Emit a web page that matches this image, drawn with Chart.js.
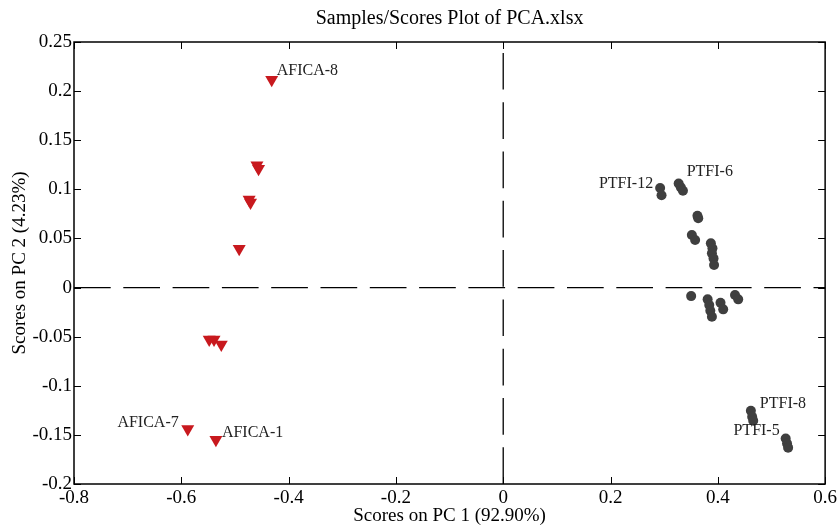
<!DOCTYPE html>
<html>
<head>
<meta charset="utf-8">
<script src="https://cdn.jsdelivr.net/npm/chart.js@4/dist/chart.umd.min.js"></script>
<style>
  html, body { margin: 0; padding: 0; background: #ffffff; }
  #wrap { width: 840px; height: 526px; }
</style>
</head>
<body>
<div id="wrap"><canvas id="c" width="840" height="526"></canvas></div>
<script>
// ---- data ----
const titleText = 'Samples/Scores Plot of PCA.xlsx';
const xTitle = 'Scores on PC 1 (92.90%)';
const yTitle = 'Scores on PC 2 (4.23%)';

const xTickValues = [-0.8, -0.6, -0.4, -0.2, 0, 0.2, 0.4, 0.6];
const xTickLabels = ['-0.8', '-0.6', '-0.4', '-0.2', '0', '0.2', '0.4', '0.6'];
const yTickValues = [0.25, 0.2, 0.15, 0.1, 0.05, 0, -0.05, -0.1, -0.15, -0.2];
const yTickLabels = ['0.25', '0.2', '0.15', '0.1', '0.05', '0', '-0.05', '-0.1', '-0.15', '-0.2'];

// AFICA samples (red triangles)
const aficaX = [-0.4315, -0.459, -0.456, -0.4736, -0.471, -0.4921, -0.548, -0.539, -0.5255, -0.588, -0.5355];
const aficaY = [0.2115, 0.1245, 0.121, 0.0896, 0.0866, 0.0394, -0.053, -0.053, -0.058, -0.1439, -0.155];

// PTFI samples (dark grey circles)
const ptfiX = [0.2925, 0.2951, 0.327, 0.331, 0.335, 0.362, 0.3635, 0.3516, 0.3577,
               0.387, 0.390, 0.389, 0.392, 0.393,
               0.3503, 0.381, 0.384, 0.386, 0.389, 0.405, 0.410, 0.432, 0.438,
               0.4616, 0.464, 0.466, 0.5265, 0.529, 0.531];
const ptfiY = [0.1013, 0.0939, 0.106, 0.102, 0.0986, 0.073, 0.0705, 0.0535, 0.0484,
               0.045, 0.040, 0.0348, 0.0297, 0.0229,
               -0.0087, -0.012, -0.0178, -0.0236, -0.0297, -0.0155, -0.0222, -0.0076, -0.012,
               -0.1255, -0.1316, -0.1356, -0.1536, -0.1587, -0.163];

// sample names attached to points: [dataset, point index, text]
const pointNames = [
  [0, 0, 'AFICA-8'],
  [0, 9, 'AFICA-7'],
  [0, 10, 'AFICA-1'],
  [1, 0, 'PTFI-12'],
  [1, 2, 'PTFI-6'],
  [1, 23, 'PTFI-8'],
  [1, 26, 'PTFI-5']
];
// label placement relative to its point (style, not data)
const nameOffsets = {
  'AFICA-8': { dx: 5, dy: -5, align: 'left' },
  'AFICA-7': { dx: -9, dy: -2, align: 'right' },
  'AFICA-1': { dx: 6, dy: -3, align: 'left' },
  'PTFI-12': { dx: -7, dy: 0, align: 'right' },
  'PTFI-6': { dx: 8, dy: -7, align: 'left' },
  'PTFI-8': { dx: 9, dy: -3, align: 'left' },
  'PTFI-5': { dx: -6, dy: -3, align: 'right' }
};

const toPoints = (xs, ys) => xs.map((x, i) => ({ x: x, y: ys[i] }));

const SERIF = '"Liberation Serif", "Times New Roman", serif';

const decorPlugin = {
  id: 'decor',
  beforeDatasetsDraw(chart) {
    const ctx = chart.ctx;
    const a = chart.chartArea;
    const xs = chart.scales.x, ys = chart.scales.y;
    ctx.save();
    // dashed zero lines
    ctx.strokeStyle = '#000';
    ctx.lineWidth = 1.3;
    ctx.setLineDash([36.7, 12.6]);
    const y0 = ys.getPixelForValue(0);
    ctx.beginPath();
    ctx.moveTo(a.left, y0);
    ctx.lineTo(a.right, y0);
    ctx.stroke();
    const x0 = xs.getPixelForValue(0);
    ctx.beginPath();
    ctx.moveTo(x0, a.bottom);
    ctx.lineTo(x0, a.top);
    ctx.stroke();
    ctx.restore();
  },
  afterDatasetsDraw(chart) {
    const ctx = chart.ctx;
    const a = chart.chartArea;
    const xs = chart.scales.x, ys = chart.scales.y;
    ctx.save();
    // frame
    ctx.strokeStyle = '#000';
    ctx.lineWidth = 1.5;
    ctx.setLineDash([]);
    ctx.strokeRect(a.left, a.top, a.right - a.left, a.bottom - a.top);
    // inward tick marks on all four sides
    ctx.lineWidth = 1;
    const tl = 7;
    ctx.beginPath();
    xTickValues.forEach(v => {
      const px = Math.round(xs.getPixelForValue(v)) + 0.5;
      ctx.moveTo(px, a.bottom); ctx.lineTo(px, a.bottom - tl);
      ctx.moveTo(px, a.top); ctx.lineTo(px, a.top + tl);
    });
    yTickValues.forEach(v => {
      const py = Math.round(ys.getPixelForValue(v)) + 0.5;
      ctx.moveTo(a.left, py); ctx.lineTo(a.left + tl, py);
      ctx.moveTo(a.right, py); ctx.lineTo(a.right - tl, py);
    });
    ctx.stroke();
    // sample names
    ctx.fillStyle = '#222';
    ctx.font = '16px ' + SERIF;
    ctx.textBaseline = 'alphabetic';
    pointNames.forEach(([ds, idx, text]) => {
      const el = chart.getDatasetMeta(ds).data[idx];
      const o = nameOffsets[text];
      ctx.textAlign = o.align;
      ctx.fillText(text, el.x + o.dx, el.y + o.dy);
    });
    // titles
    ctx.fillStyle = '#000';
    ctx.textAlign = 'center';
    ctx.textBaseline = 'middle';
    const cx = (a.left + a.right) / 2;
    ctx.font = '20px ' + SERIF;
    ctx.fillText(titleText, cx, 19);
    ctx.font = '19px ' + SERIF;
    ctx.fillText(xTitle, cx, 516);
    ctx.translate(20, (a.top + a.bottom) / 2);
    ctx.rotate(-Math.PI / 2);
    ctx.fillText(yTitle, 0, 0);
    ctx.restore();
  }
};

new Chart(document.getElementById('c'), {
  type: 'scatter',
  data: {
    datasets: [
      {
        label: 'AFICA',
        data: toPoints(aficaX, aficaY),
        pointStyle: 'triangle',
        rotation: 180,
        pointRadius: 7.5,
        backgroundColor: '#C8191E',
        borderWidth: 0
      },
      {
        label: 'PTFI',
        data: toPoints(ptfiX, ptfiY),
        pointStyle: 'circle',
        pointRadius: 5,
        backgroundColor: '#3F3F3F',
        borderWidth: 0
      }
    ]
  },
  options: {
    responsive: false,
    animation: false,
    devicePixelRatio: 1,
    events: [],
    layout: { padding: { left: 0, right: 11, top: 42, bottom: 0 } },
    plugins: { legend: { display: false }, title: { display: false }, tooltip: { enabled: false } },
    scales: {
      x: {
        type: 'linear',
        min: -0.8, max: 0.6,
        afterBuildTicks: s => { s.ticks = xTickValues.map(v => ({ value: v })); },
        afterFit: s => { s.height = 42; },
        grid: { display: false, drawTicks: false },
        border: { display: false },
        ticks: {
          padding: 3,
          color: '#000',
          font: { family: SERIF, size: 19 },
          callback: (v, i) => xTickLabels[i],
          maxRotation: 0, autoSkip: false
        }
      },
      y: {
        type: 'linear',
        min: -0.2, max: 0.25,
        afterBuildTicks: s => { s.ticks = yTickValues.map(v => ({ value: v })); },
        afterFit: s => { s.width = 74; },
        grid: { display: false, drawTicks: false },
        border: { display: false },
        ticks: {
          padding: 2,
          color: '#000',
          font: { family: SERIF, size: 19 },
          callback: (v, i) => yTickLabels[i],
          autoSkip: false
        }
      }
    }
  },
  plugins: [decorPlugin]
});
</script>
</body>
</html>
